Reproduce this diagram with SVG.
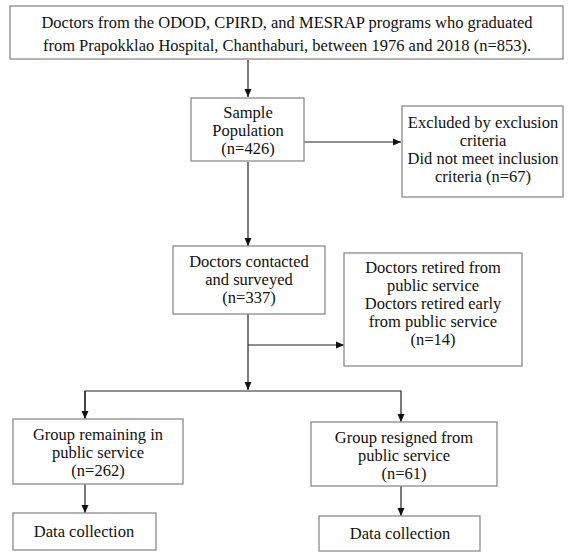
<svg xmlns="http://www.w3.org/2000/svg" width="570" height="552" viewBox="0 0 570 552">
<style>
.box{fill:#fff;stroke:#8a8a8a;stroke-width:1.3}
text{font-family:'Liberation Serif','DejaVu Serif','Times New Roman',serif;font-size:16.5px;fill:#111;text-anchor:middle}
.c{fill:none;stroke:#222;stroke-width:1.2}
</style>
<defs>
<marker id="ah" markerWidth="8" markerHeight="8" viewBox="0 0 8 8" refX="8" refY="4" orient="auto" markerUnits="userSpaceOnUse">
<path d="M0,0.5 L8,4 L0,7.5 Z" fill="#111"/>
</marker>
</defs>
<rect width="570" height="552" fill="#fff"/>
<g id="connectors">
<line class="c" x1="248" y1="60" x2="248" y2="97" marker-end="url(#ah)"/>
<line class="c" x1="304" y1="142" x2="401" y2="142" marker-end="url(#ah)"/>
<line class="c" x1="248" y1="162" x2="248" y2="246" marker-end="url(#ah)"/>
<line class="c" x1="248" y1="314" x2="248" y2="390" marker-end="url(#ah)"/>
<line class="c" x1="248" y1="345" x2="344" y2="345" marker-end="url(#ah)"/>
<polyline class="c" points="85,418 85,391 401,391 401,422" marker-end="url(#ah)"/>
<line class="c" x1="85" y1="391" x2="85" y2="419" marker-end="url(#ah)"/>
<line class="c" x1="85" y1="484" x2="85" y2="513" marker-end="url(#ah)"/>
<line class="c" x1="401" y1="486" x2="401" y2="516" marker-end="url(#ah)"/>
</g>
<g id="n_top">
<rect class="box" x="10" y="6" width="553" height="53"/>
<text x="287" y="28">Doctors from the ODOD, CPIRD,  and MESRAP programs who graduated</text>
<text x="287" y="51">from Prapokklao Hospital, Chanthaburi, between 1976 and 2018 (n=853).</text>
</g>
<g id="n_sample">
<rect class="box" x="191" y="98" width="113" height="63"/>
<text x="248" y="118">Sample</text>
<text x="248" y="136">Population</text>
<text x="248" y="154">(n=426)</text>
</g>
<g id="n_excluded">
<rect class="box" x="402" y="106" width="161" height="91"/>
<text x="483" y="128">Excluded by exclusion</text>
<text x="483" y="146">criteria</text>
<text x="483" y="164">Did not meet inclusion</text>
<text x="483" y="182">criteria (n=67)</text>
</g>
<g id="n_contacted">
<rect class="box" x="173" y="246" width="152" height="68"/>
<text x="249" y="267">Doctors contacted</text>
<text x="249" y="285">and surveyed</text>
<text x="249" y="303">(n=337)</text>
</g>
<g id="n_retired">
<rect class="box" x="344" y="253" width="178" height="113"/>
<text x="433" y="273">Doctors retired from</text>
<text x="433" y="291">public service</text>
<text x="433" y="309">Doctors retired early</text>
<text x="433" y="327">from public service</text>
<text x="433" y="345">(n=14)</text>
</g>
<g id="n_remain">
<rect class="box" x="13" y="419" width="170" height="65"/>
<text x="98" y="440">Group remaining in</text>
<text x="98" y="458">public service</text>
<text x="98" y="476">(n=262)</text>
</g>
<g id="n_resigned">
<rect class="box" x="311" y="422" width="186" height="64"/>
<text x="404" y="443">Group resigned from</text>
<text x="404" y="461">public service</text>
<text x="404" y="479">(n=61)</text>
</g>
<g id="n_data1">
<rect class="box" x="13" y="513" width="143" height="37"/>
<text x="84" y="537">Data collection</text>
</g>
<g id="n_data2">
<rect class="box" x="319" y="516" width="161" height="35"/>
<text x="400" y="539">Data collection</text>
</g>
</svg>
